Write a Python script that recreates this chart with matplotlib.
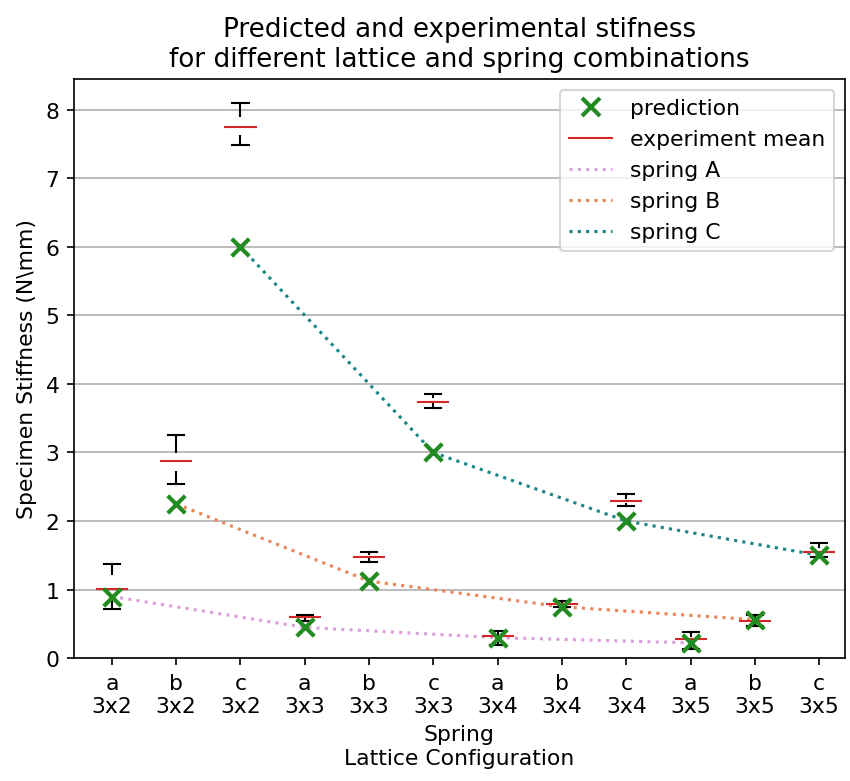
import matplotlib
matplotlib.use("Agg")
import matplotlib.pyplot as plt
from matplotlib.lines import Line2D

plt.rcParams["font.size"] = 10.5

# x categories: spring letter over lattice size
springs = ["a", "b", "c"] * 4
lattices = ["3x2"] * 3 + ["3x3"] * 3 + ["3x4"] * 3 + ["3x5"] * 3

# predicted stiffness (N/mm)
prediction = [0.9, 2.25, 6.0, 0.45, 1.125, 3.0, 0.3, 0.75, 2.0, 0.225, 0.5625, 1.5]

# experimental spread per combination
exp_min = [0.72, 2.54, 7.49, 0.55, 1.40, 3.65, 0.20, 0.74, 2.22, 0.14, 0.47, 1.48]
exp_q1  = [0.83, 2.72, 7.62, 0.57, 1.44, 3.70, 0.27, 0.76, 2.25, 0.20, 0.51, 1.51]
exp_med = [1.01, 2.88, 7.75, 0.60, 1.48, 3.74, 0.32, 0.79, 2.30, 0.28, 0.55, 1.55]
exp_q3  = [1.23, 3.00, 7.91, 0.61, 1.52, 3.81, 0.35, 0.81, 2.34, 0.33, 0.59, 1.62]
exp_max = [1.37, 3.25, 8.10, 0.63, 1.55, 3.86, 0.39, 0.83, 2.40, 0.38, 0.63, 1.68]

spring_names = ["spring A", "spring B", "spring C"]
spring_colors = ["plum", "#e9875a", "#1a8585"]

pos = list(range(1, len(prediction) + 1))

fig = plt.figure(figsize=(850 / 150, 782 / 150), dpi=150)
ax = fig.add_axes([0.087, 0.157, 0.907, 0.741])
ax.set_axisbelow(True)
ax.yaxis.grid(True)

# dotted lines linking the predictions of each spring
for k in range(3):
    ax.plot(pos[k::3], prediction[k::3], ls=":", lw=1.5, color=spring_colors[k])

ax.scatter(pos, prediction, marker="x", s=70, linewidths=2, color="forestgreen", zorder=3)

stats = []
for i in range(len(pos)):
    stats.append(dict(whislo=exp_min[i], q1=exp_q1[i], med=exp_med[i],
                      q3=exp_q3[i], whishi=exp_max[i], fliers=[]))
ax.bxp(stats, positions=pos, widths=0.5, showbox=False, showfliers=False,
       medianprops=dict(color="C3", lw=1),
       whiskerprops=dict(color="black"), capprops=dict(color="black"))

ax.set_xlim(0.41, 12.4)
ax.set_ylim(0, 8.45)
ax.set_yticks(range(0, 9))
ax.set_xticks(pos)
ax.set_xticklabels([s + "\n" + l for s, l in zip(springs, lattices)])
ax.set_xlabel("Spring\nLattice Configuration")
ax.set_ylabel("Specimen Stiffness (N\\mm)")
ax.set_title("Predicted and experimental stifness\nfor different lattice and spring combinations",
             fontsize=12.6)

handles = [Line2D([], [], marker="x", ls="", color="forestgreen", markersize=8.5, mew=2),
           Line2D([], [], color="C3", lw=1)]
handles += [Line2D([], [], ls=":", lw=1.5, color=c) for c in spring_colors]
labels = ["prediction", "experiment mean"] + spring_names
ax.legend(handles, labels, loc="upper right")

fig.savefig("out.png", dpi=150)
